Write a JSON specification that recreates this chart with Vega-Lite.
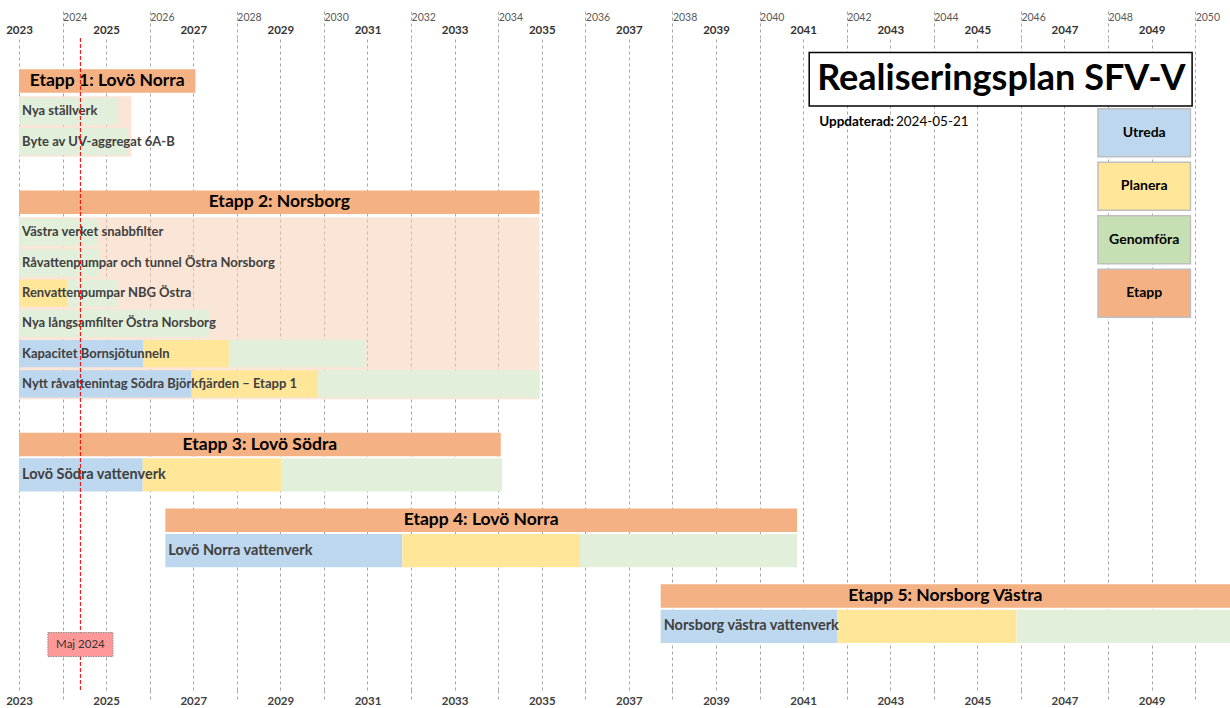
{
  "$schema": "https://vega.github.io/schema/vega-lite/v6.json",
  "width": 1211,
  "height": 652,
  "autosize": {"type": "none"},
  "padding": {"left": 19, "top": 38, "right": 0, "bottom": 18},
  "background": "white",
  "config": {"view": {"stroke": null}, "font": "Lato", "text": {"font": "Lato"}},
  "datasets": {
    "segments": [
      {"etapp": 1, "row": "Nya ställverk", "phase": "Genomföra", "start": 2023, "end": 2025.28},
      {"etapp": 1, "row": "Byte av UV-aggregat 6A-B", "phase": "Genomföra", "start": 2023, "end": 2025.5},
      {"etapp": 2, "row": "Västra verket snabbfilter", "phase": "Genomföra", "start": 2023, "end": 2024.81},
      {"etapp": 2, "row": "Råvattenpumpar och tunnel Östra Norsborg", "phase": "Genomföra", "start": 2023, "end": 2024.85},
      {"etapp": 2, "row": "Renvattenpumpar NBG Östra", "phase": "Planera", "start": 2023, "end": 2024.11},
      {"etapp": 2, "row": "Renvattenpumpar NBG Östra", "phase": "Genomföra", "start": 2024.11, "end": 2025.26},
      {"etapp": 2, "row": "Nya långsamfilter Östra Norsborg", "phase": "Genomföra", "start": 2023, "end": 2027.37},
      {"etapp": 2, "row": "Kapacitet Bornsjötunneln", "phase": "Utreda", "start": 2023, "end": 2025.85},
      {"etapp": 2, "row": "Kapacitet Bornsjötunneln", "phase": "Planera", "start": 2025.85, "end": 2027.82},
      {"etapp": 2, "row": "Kapacitet Bornsjötunneln", "phase": "Genomföra", "start": 2027.82, "end": 2030.95},
      {"etapp": 2, "row": "Nytt råvattenintag Södra Björkfjärden – Etapp 1", "phase": "Utreda", "start": 2023, "end": 2026.96},
      {"etapp": 2, "row": "Nytt råvattenintag Södra Björkfjärden – Etapp 1", "phase": "Planera", "start": 2026.96, "end": 2029.86},
      {"etapp": 2, "row": "Nytt råvattenintag Södra Björkfjärden – Etapp 1", "phase": "Genomföra", "start": 2029.86, "end": 2034.95},
      {"etapp": 3, "row": "Lovö Södra vattenverk", "phase": "Utreda", "start": 2023, "end": 2025.84},
      {"etapp": 3, "row": "Lovö Södra vattenverk", "phase": "Planera", "start": 2025.84, "end": 2029.03},
      {"etapp": 3, "row": "Lovö Södra vattenverk", "phase": "Genomföra", "start": 2029.03, "end": 2034.09},
      {"etapp": 4, "row": "Lovö Norra vattenverk", "phase": "Utreda", "start": 2026.36, "end": 2031.8},
      {"etapp": 4, "row": "Lovö Norra vattenverk", "phase": "Planera", "start": 2031.8, "end": 2035.88},
      {"etapp": 4, "row": "Lovö Norra vattenverk", "phase": "Genomföra", "start": 2035.88, "end": 2040.86},
      {"etapp": 5, "row": "Norsborg västra vattenverk", "phase": "Utreda", "start": 2037.73, "end": 2041.79},
      {"etapp": 5, "row": "Norsborg västra vattenverk", "phase": "Planera", "start": 2041.79, "end": 2045.9},
      {"etapp": 5, "row": "Norsborg västra vattenverk", "phase": "Genomföra", "start": 2045.9, "end": 2050.8}
    ],
    "etapps": [
      {"etapp": 1, "row": "Etapp 1: Lovö Norra", "start": 2023, "end": 2027.05},
      {"etapp": 2, "row": "Etapp 2: Norsborg", "start": 2023, "end": 2034.95},
      {"etapp": 3, "row": "Etapp 3: Lovö Södra", "start": 2023, "end": 2034.06},
      {"etapp": 4, "row": "Etapp 4: Lovö Norra", "start": 2026.36, "end": 2040.86},
      {"etapp": 5, "row": "Etapp 5: Norsborg Västra", "start": 2037.73, "end": 2050.8}
    ],
    "backgrounds": [
      {"row": "Nya ställverk", "start": 2023, "end": 2025.58},
      {"row": "Byte av UV-aggregat 6A-B", "start": 2023, "end": 2025.58},
      {"row": "Västra verket snabbfilter", "start": 2023, "end": 2034.95},
      {"row": "Råvattenpumpar och tunnel Östra Norsborg", "start": 2023, "end": 2034.95},
      {"row": "Renvattenpumpar NBG Östra", "start": 2023, "end": 2034.95},
      {"row": "Nya långsamfilter Östra Norsborg", "start": 2023, "end": 2034.95},
      {"row": "Kapacitet Bornsjötunneln", "start": 2023, "end": 2034.95},
      {"row": "Nytt råvattenintag Södra Björkfjärden – Etapp 1", "start": 2023, "end": 2034.95}
    ],
    "marker": [
      {"row": "Maj 2024", "label": "Maj 2024", "date": 2024.41}
    ],
    "titleBox": [
      {"item": "Realiseringsplan SFV-V", "updatedLabel": "Uppdaterad:", "updated": "2024-05-21"}
    ],
    "legend": [
      {"item": "Utreda"},
      {"item": "Planera"},
      {"item": "Genomföra"},
      {"item": "Etapp"}
    ]
  },
  "layer": [
    {
      "layer": [
        {
          "data": {"name": "backgrounds"},
          "mark": {"type": "bar", "color": "#f8cbad", "opacity": 0.5, "height": {"band": 2}},
          "encoding": {
            "x": {
              "field": "start", "type": "quantitative",
              "scale": {"domain": [2023, 2050.8], "nice": false, "zero": false},
              "axis": {
                "orient": "bottom", "title": null, "format": "d",
                "values": [2023, 2024, 2025, 2026, 2027, 2028, 2029, 2030, 2031, 2032, 2033, 2034, 2035, 2036, 2037, 2038, 2039, 2040, 2041, 2042, 2043, 2044, 2045, 2046, 2047, 2048, 2049, 2050],
                "grid": true, "gridColor": "#a6a6a6", "gridDash": [3, 3], "gridWidth": 1,
                "domain": false, "ticks": true, "tickSize": 10, "tickColor": "#a6a6a6", "tickDash": [3, 3],
                "tickOpacity": {"condition": {"test": "datum.value % 2 === 0", "value": 1}, "value": 0},
                "labelExpr": "datum.value % 2 === 1 ? datum.label : ''",
                "labelPadding": -5, "labelFont": "Lato", "labelFontWeight": "bold", "labelFontSize": 11.5,
                "labelColor": "#404040", "labelFlush": false, "labelOverlap": false, "labelDx": 2
              }
            },
            "x2": {"field": "end"},
            "y": {
              "field": "row", "type": "nominal", "axis": null,
              "scale": {
                "type": "band", "paddingInner": 0, "paddingOuter": 0.518, "align": 0.325,
                "domain": ["t1", "t2", "Etapp 1: Lovö Norra", "g1", "Nya ställverk", "g3", "Byte av UV-aggregat 6A-B", "g5", "g6", "g7", "Etapp 2: Norsborg", "g9", "Västra verket snabbfilter", "g11", "Råvattenpumpar och tunnel Östra Norsborg", "g13", "Renvattenpumpar NBG Östra", "g15", "Nya långsamfilter Östra Norsborg", "g17", "Kapacitet Bornsjötunneln", "g19", "Nytt råvattenintag Södra Björkfjärden – Etapp 1", "g21", "g22", "g23", "Etapp 3: Lovö Södra", "g25", "Lovö Södra vattenverk", "g27", "g28", "Etapp 4: Lovö Norra", "g30", "Lovö Norra vattenverk", "g32", "g33", "Etapp 5: Norsborg Västra", "g35", "Norsborg västra vattenverk", "Maj 2024", "b1", "b2"]
              }
            }
          }
        },
        {
          "data": {"name": "segments"},
          "transform": [{"filter": "datum.etapp <= 2"}],
          "mark": {"type": "bar", "height": {"band": 1.8}},
          "encoding": {
            "x": {
              "field": "start", "type": "quantitative",
              "axis": {
                "orient": "top", "title": null, "format": "d",
                "values": [2023, 2025, 2027, 2029, 2031, 2033, 2035, 2037, 2039, 2041, 2043, 2045, 2047, 2049],
                "grid": false, "domain": false, "ticks": false,
                "labelPadding": 3, "labelFont": "Lato", "labelFontWeight": "bold", "labelFontSize": 11.5,
                "labelColor": "#333333", "labelFlush": false, "labelOverlap": false, "labelDx": 2
              }
            },
            "x2": {"field": "end"},
            "y": {"field": "row", "type": "nominal", "axis": null},
            "color": {
              "field": "phase", "type": "nominal", "legend": null,
              "scale": {"domain": ["Utreda", "Planera", "Genomföra", "Etapp"], "range": ["#bdd7ee", "#ffe699", "#e2efda", "#f4b183"]}
            }
          }
        },
        {
          "data": {"name": "segments"},
          "transform": [{"filter": "datum.etapp >= 3"}],
          "mark": {"type": "bar", "height": {"band": 2.18}},
          "encoding": {
            "x": {
              "field": "start", "type": "quantitative",
              "axis": {
                "orient": "top", "title": null, "format": "d",
                "values": [2024, 2026, 2028, 2030, 2032, 2034, 2036, 2038, 2040, 2042, 2044, 2046, 2048, 2050],
                "grid": false, "domain": false, "ticks": true, "tickSize": 28, "tickColor": "#a6a6a6", "tickDash": [3, 3],
                "labelPadding": -12, "labelAlign": "left", "labelDx": 2, "labelFont": "Lato", "labelFontSize": 10.5,
                "labelColor": "#595959", "labelFlush": false, "labelOverlap": false
              }
            },
            "x2": {"field": "end"},
            "y": {"field": "row", "type": "nominal", "axis": null},
            "color": {"field": "phase", "type": "nominal", "legend": null}
          }
        },
        {
          "data": {"name": "etapps"},
          "mark": {"type": "bar", "color": "#f4b183", "height": {"band": 1.55}},
          "encoding": {
            "x": {"field": "start", "type": "quantitative", "axis": null},
            "x2": {"field": "end"},
            "y": {"field": "row", "type": "nominal", "axis": null}
          }
        },
        {
          "data": {"name": "segments"},
          "transform": [{"aggregate": [{"op": "min", "field": "start", "as": "labelStart"}], "groupby": ["row", "etapp"]}],
          "mark": {"type": "text", "align": "left", "baseline": "middle", "dx": 3, "font": "Lato", "fontWeight": "bold", "color": "#404040"},
          "encoding": {
            "x": {"field": "labelStart", "type": "quantitative", "axis": null},
            "y": {"field": "row", "type": "nominal", "axis": null},
            "text": {"field": "row"},
            "size": {"condition": {"test": "datum.etapp >= 3", "value": 14.5}, "value": 13}
          }
        },
        {
          "data": {"name": "etapps"},
          "transform": [
            {"fold": ["start", "end"], "as": ["edge", "value"]},
            {"aggregate": [{"op": "mean", "field": "value", "as": "mid"}], "groupby": ["row"]}
          ],
          "mark": {"type": "text", "align": "center", "baseline": "middle", "font": "Lato", "fontWeight": "bold", "fontSize": 17.5, "color": "#000000"},
          "encoding": {
            "x": {"field": "mid", "type": "quantitative", "axis": null},
            "y": {"field": "row", "type": "nominal", "axis": null},
            "text": {"field": "row"}
          }
        },
        {
          "data": {"name": "marker"},
          "mark": {"type": "rule", "color": "#ff0000", "strokeDash": [4, 2], "strokeWidth": 1},
          "encoding": {
            "x": {"field": "date", "type": "quantitative", "axis": null}
          }
        },
        {
          "data": {"name": "marker"},
          "mark": {"type": "tick", "thickness": 65, "size": 24, "fill": "#ff9999", "stroke": "#8c8c8c", "strokeWidth": 1, "strokeDash": [1.5, 1], "opacity": 1, "yOffset": 3},
          "encoding": {
            "x": {"field": "date", "type": "quantitative", "axis": null},
            "y": {"field": "row", "type": "nominal", "axis": null}
          }
        },
        {
          "data": {"name": "marker"},
          "mark": {"type": "text", "align": "center", "baseline": "middle", "font": "Lato", "fontSize": 11.5, "color": "#333333", "yOffset": 3},
          "encoding": {
            "x": {"field": "date", "type": "quantitative", "axis": null},
            "y": {"field": "row", "type": "nominal", "axis": null},
            "text": {"field": "label"}
          }
        }
      ]
    },
    {
      "layer": [
        {
          "data": {"name": "titleBox"},
          "mark": {"type": "rect", "fill": "#ffffff", "stroke": "#000000", "strokeWidth": 1.5},
          "encoding": {
            "x": {"datum": 2041.14, "type": "quantitative", "axis": null},
            "x2": {"datum": 2049.93},
            "y": {
              "field": "item", "type": "nominal", "axis": null,
              "scale": {"type": "band", "paddingInner": 0, "paddingOuter": 0.593, "align": 0.228,
                "domain": ["Realiseringsplan SFV-V", "Utreda", "Planera", "Genomföra", "Etapp", "f1", "f2", "f3", "f4", "f5", "f6"]}
            }
          }
        },
        {
          "data": {"name": "titleBox"},
          "mark": {"type": "text", "align": "center", "baseline": "middle", "font": "Lato", "fontWeight": "bold", "fontSize": 36, "color": "#000000"},
          "encoding": {
            "x": {"datum": 2045.55, "type": "quantitative", "axis": null},
            "y": {"field": "item", "type": "nominal", "axis": null},
            "text": {"field": "item"}
          }
        },
        {
          "data": {"name": "titleBox"},
          "mark": {"type": "text", "align": "left", "baseline": "middle", "dy": 43, "font": "Lato", "fontWeight": "bold", "fontSize": 13.5, "color": "#000000"},
          "encoding": {
            "x": {"datum": 2041.37, "type": "quantitative", "axis": null},
            "y": {"field": "item", "type": "nominal", "axis": null},
            "text": {"field": "updatedLabel"}
          }
        },
        {
          "data": {"name": "titleBox"},
          "mark": {"type": "text", "align": "left", "baseline": "middle", "dy": 43, "font": "Lato", "fontSize": 13.5, "color": "#000000"},
          "encoding": {
            "x": {"datum": 2043.13, "type": "quantitative", "axis": null},
            "y": {"field": "item", "type": "nominal", "axis": null},
            "text": {"field": "updated"}
          }
        },
        {
          "data": {"name": "legend"},
          "mark": {"type": "tick", "thickness": 92.5, "size": 48, "stroke": "#bfbfbf", "strokeWidth": 1.5, "opacity": 1},
          "encoding": {
            "x": {"datum": 2048.83, "type": "quantitative", "axis": null},
            "y": {"field": "item", "type": "nominal", "axis": null},
            "color": {
              "field": "item", "type": "nominal", "legend": null,
              "scale": {"domain": ["Utreda", "Planera", "Genomföra", "Etapp"], "range": ["#bdd7ee", "#ffe699", "#c6e0b4", "#f4b183"]}
            }
          }
        },
        {
          "data": {"name": "legend"},
          "mark": {"type": "text", "align": "center", "baseline": "middle", "font": "Lato", "fontWeight": "bold", "fontSize": 14, "color": "#000000"},
          "encoding": {
            "x": {"datum": 2048.83, "type": "quantitative", "axis": null},
            "y": {"field": "item", "type": "nominal", "axis": null},
            "text": {"field": "item"}
          }
        }
      ]
    }
  ],
  "resolve": {"scale": {"y": "independent", "color": "independent"}}
}
